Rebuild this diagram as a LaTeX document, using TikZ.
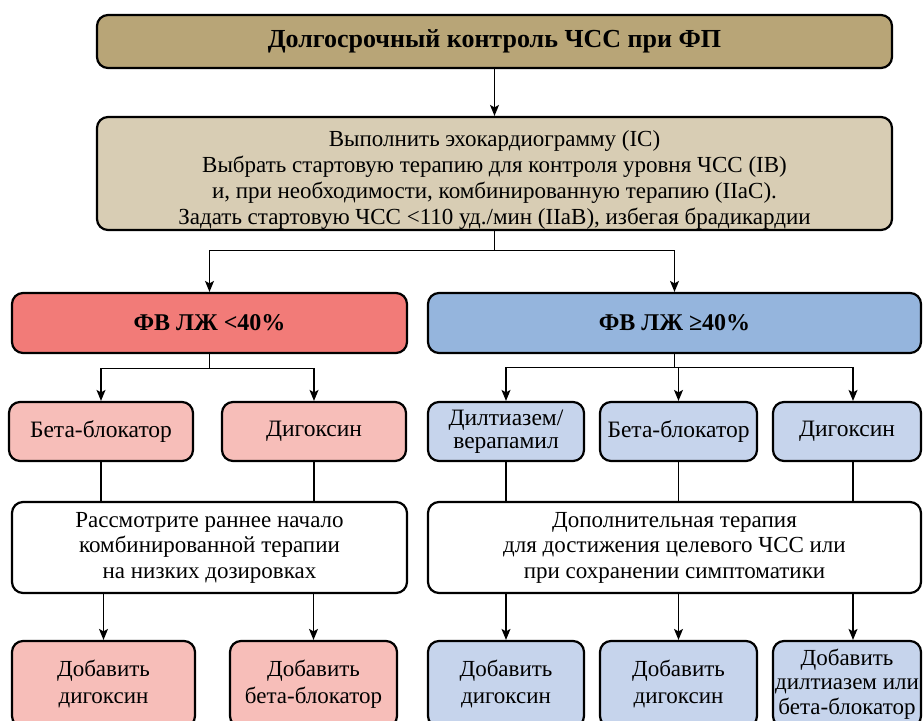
\documentclass[tikz,border=0pt]{standalone}
\usepackage{fontspec}
\setmainfont{Liberation Serif}
\usetikzlibrary{arrows,arrows.meta}
\usetikzlibrary{positioning}
\definecolor{tanDark}{HTML}{B8A577}
\definecolor{tanLight}{HTML}{D8CDB4}
\definecolor{redDark}{HTML}{F27B78}
\definecolor{redLight}{HTML}{F7BEB9}
\definecolor{blueDark}{HTML}{95B5DD}
\definecolor{blueLight}{HTML}{C6D4EC}
\tikzset{
  roundbox/.style={draw, line width=2.2pt, rounded corners=11pt, align=center, inner sep=1pt,
                   font=\fontsize{23}{25.5}\selectfont},
  titlebox/.style={roundbox, fill=tanDark, minimum width=795pt, minimum height=53pt,
                   font=\bfseries\fontsize{26}{28}\selectfont},
  plainbox/.style={roundbox, fill=tanLight, minimum width=795pt, minimum height=113pt},
  plaintext/.style={align=center, inner sep=0pt, font=\fontsize{23}{26}\selectfont},
  headbox/.style={roundbox, minimum height=60pt, font=\bfseries\fontsize{24}{28}\selectfont},
  drugbox/.style={roundbox, minimum height=59pt, font=\fontsize{23.5}{22.5}\selectfont},
  notebox/.style={roundbox, fill=white, minimum height=91pt},
  addbox/.style={roundbox, minimum height=86pt, font=\fontsize{23}{27}\selectfont},
  conn/.style={line width=1.2pt},
  arr/.style={conn, -{Stealth[length=11pt,width=9pt,inset=2.5pt]}}
}
\begin{document}
\begin{tikzpicture}[x=1pt,y=-1pt]
  \useasboundingbox (0,0) rectangle (923,720);
  % top
  \node[titlebox] (head) at (494.5,41.5) {Долгосрочный контроль ЧСС при ФП};
  \node[plainbox] (start) at (494.5,173.5) {};
  \node[plaintext] (startText) at (494.5,180) {Выполнить эхокардиограмму (IC)\\
    Выбрать стартовую терапию для контроля уровня ЧСС (IB)\\
    и, при необходимости, комбинированную терапию (IIaC).\\
    Задать стартовую ЧСС <110 уд./мин (IIaB), избегая брадикардии};
  % two branches
  \node[headbox, fill=redDark, minimum width=395pt] (low) at (209.5,323) {ФВ ЛЖ <40\%};
  \node[headbox, fill=blueDark, minimum width=493pt] (high) at (674.5,323) {ФВ ЛЖ ≥40\%};
  % drugs
  \node[drugbox, fill=redLight, minimum width=184pt] (lowBB) at (101,431.5) {Бета-блокатор};
  \node[drugbox, fill=redLight, minimum width=184pt] (lowDig) at (314,431.5) {Дигоксин};
  \node[drugbox, fill=blueLight, minimum width=156pt] (highCa) at (506,431.5) {Дилтиазем/\\верапамил};
  \node[drugbox, fill=blueLight, minimum width=157pt] (highBB) at (678.5,431.5) {Бета-блокатор};
  \node[drugbox, fill=blueLight, minimum width=148pt] (highDig) at (847,431.5) {Дигоксин};
  % notes
  \node[notebox, minimum width=395pt] (lowNote) at (209.5,547.5) {Рассмотрите раннее начало\\
    комбинированной терапии\\на низких дозировках};
  \node[notebox, minimum width=493pt] (highNote) at (674.5,547.5) {Дополнительная терапия\\
    для достижения целевого ЧСС или\\при сохранении симптоматики};
  % add-ons (cut by the lower edge)
  \node[addbox, fill=redLight, minimum width=183pt] (addA) at (103.5,684) {Добавить\\дигоксин};
  \node[addbox, fill=redLight, minimum width=167pt] (addB) at (313.5,684) {Добавить\\бета-блокатор};
  \node[addbox, fill=blueLight, minimum width=156pt] (addC) at (506,684) {Добавить\\дигоксин};
  \node[addbox, fill=blueLight, minimum width=157pt] (addD) at (678.5,684) {Добавить\\дигоксин};
  \node[addbox, fill=blueLight, minimum width=148pt, font=\fontsize{23}{24.5}\selectfont]
    (addE) at (847,684) {Добавить\\дилтиазем или\\бета-блокатор};
  % connectors
  \draw[arr] (head) -- (start);
  \draw[conn] (start.south) -- ++(0,19) coordinate (fork);
  \draw[arr] (fork) -| (low.north);
  \draw[arr] (fork) -| (high.north);
  \draw[conn] (low.south) -- ++(0,14) coordinate (lowFork);
  \draw[arr] (lowFork) -| (lowBB.north);
  \draw[arr] (lowFork) -| (lowDig.north);
  \draw[conn] (high.south) -- ++(0,13) coordinate (highFork);
  \draw[arr] (highFork) -| (highCa.north);
  \draw[arr] (highFork) -| (highBB.north);
  \draw[arr] (highFork) -| ([xshift=6pt]highDig.north);
  \foreach \d in {lowBB,lowDig}
    \draw[conn] (\d.south) -- (\d.south |- lowNote.north);
  \draw[conn] (highCa.south) -- (highCa.south |- highNote.north);
  \draw[conn] (highBB.south) -- (highBB.south |- highNote.north);
  \draw[conn] ([xshift=6pt]highDig.south) -- ([xshift=6pt]highDig.south |- highNote.north);
  \draw[arr] (addA.north |- lowNote.south) -- (addA.north);
  \draw[arr] (addB.north |- lowNote.south) -- (addB.north);
  \foreach \a in {addC,addD}
    \draw[arr] (\a.north |- highNote.south) -- (\a.north);
  \draw[arr] ([xshift=6pt]addE.north |- highNote.south) -- ([xshift=6pt]addE.north);
\end{tikzpicture}
\end{document}
